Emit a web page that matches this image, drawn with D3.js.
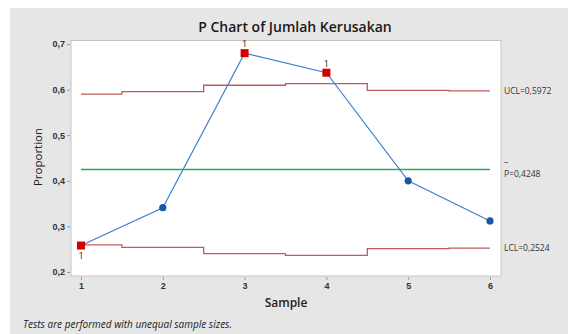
<!DOCTYPE html>
<html><head><meta charset="utf-8">
<script src="https://cdn.jsdelivr.net/npm/d3@7"></script>
<style>body{margin:0;background:#fff;}svg{display:block;font-family:"Open Sans","Noto Sans",sans-serif;}</style>
</head><body>
<svg id="c" width="568" height="334"></svg>
<script>
const samples = [1, 2, 3, 4, 5, 6];
const proportions = [0.258, 0.341, 0.680, 0.637, 0.400, 0.312];
const outOfControl = [true, false, true, true, false, false];
const ucl = [0.590, 0.5955, 0.6095, 0.613, 0.5985, 0.5972];
const centerP = 0.4248;
const lcl = ucl.map(u => 2 * centerP - u);
const yTicks = [0.2, 0.3, 0.4, 0.5, 0.6, 0.7];
const xTicks = [1, 2, 3, 4, 5, 6];
const fmt = v => d3.format(".1f")(v).replace(".", ",");

const svg = d3.select("#c");
svg.append("rect").attr("x", 10).attr("y", 8).attr("width", 558).attr("height", 326).attr("fill", "#e6e6e6");

const plot = {l: 71, t: 40.5, r: 501, b: 276};
const x = d3.scaleLinear().domain([1, 6]).range([81, 490]);
const y = d3.scaleLinear().domain([0.2, 0.7]).range([272, 44]);

svg.append("rect").attr("x", plot.l).attr("y", plot.t).attr("width", plot.r - plot.l).attr("height", plot.b - plot.t)
  .attr("fill", "#fff").attr("stroke", "#c4c4c4").attr("stroke-width", 1);

// axes
const ya = svg.append("g").attr("transform", `translate(${plot.l - 1},0)`)
  .call(d3.axisLeft(y).tickValues(yTicks).tickFormat(fmt).tickSize(3).tickPadding(2));
const xa = svg.append("g").attr("transform", `translate(0,${plot.b + 1})`)
  .call(d3.axisBottom(x).tickValues(xTicks).tickFormat(d3.format("d")).tickSize(3).tickPadding(3));
[ya, xa].forEach(a => {
  a.select(".domain").remove();
  a.selectAll(".tick line").attr("stroke", "#9a9a9a");
  a.selectAll(".tick text").attr("fill", "#333").style("font-size", "9px").style("font-weight", "600");
});

// step limits
function stepPath(vals) {
  const pts = [];
  vals.forEach((v, i) => {
    const s = samples[i];
    const x0 = Math.max(1, s - 0.5), x1 = Math.min(6, s + 0.5);
    pts.push([x(x0), y(v)], [x(x1), y(v)]);
  });
  return d3.line()(pts);
}
svg.append("path").attr("d", stepPath(ucl)).attr("fill", "none").attr("stroke", "#c25a5a").attr("stroke-width", 1.3);
svg.append("path").attr("d", stepPath(lcl)).attr("fill", "none").attr("stroke", "#c25a5a").attr("stroke-width", 1.3);
svg.append("path").attr("d", d3.line()([[x(1), y(centerP)], [x(6), y(centerP)]]))
  .attr("fill", "none").attr("stroke", "#2fa84a").attr("stroke-width", 1.3);

// data line
const line = d3.line().x((d, i) => x(samples[i])).y(d => y(d));
svg.append("path").attr("d", line(proportions)).attr("fill", "none").attr("stroke", "#3f80cc").attr("stroke-width", 1.2);

proportions.forEach((p, i) => {
  const cx = x(samples[i]), cy = y(p);
  if (outOfControl[i]) {
    svg.append("rect").attr("x", cx - 4).attr("y", cy - 4).attr("width", 8).attr("height", 8).attr("fill", "#d40000");
    const below = p < centerP;
    svg.append("text").attr("x", cx).attr("y", below ? cy + 13 : cy - 6).attr("text-anchor", "middle")
      .style("font-size", "9px").attr("fill", "#222").text("1");
  } else {
    svg.append("circle").attr("cx", cx).attr("cy", cy).attr("r", 3.6).attr("fill", "#1459a8");
  }
});

// right labels
const lab = (yy, t) => svg.append("text").attr("x", 504).attr("y", yy).attr("dy", "0.35em")
  .style("font-size", "8.5px").attr("fill", "#333").text(t);
lab(y(ucl[5]), "UCL=" + d3.format(".4f")(ucl[5]).replace(".", ","));
lab(y(lcl[5]), "LCL=" + d3.format(".4f")(lcl[5]).replace(".", ","));
lab(y(centerP) + 4.5, "P=" + d3.format(".4f")(centerP).replace(".", ","));
svg.append("text").attr("x", 504).attr("y", y(centerP) - 4).style("font-size", "8.5px").attr("fill", "#333").text("–");

// titles
svg.append("text").attr("x", 295).attr("y", 32).attr("text-anchor", "middle")
  .style("font-size", "14px").style("font-weight", "600").attr("fill", "#1a1a1a").text("P Chart of Jumlah Kerusakan");
svg.append("text").attr("x", 286).attr("y", 307).attr("text-anchor", "middle")
  .style("font-size", "12px").style("font-weight", "600").attr("fill", "#222").text("Sample");
svg.append("text").attr("transform", "translate(42,157) rotate(-90)").attr("text-anchor", "middle")
  .style("font-size", "11.5px").style("font-weight", "500").attr("fill", "#222").text("Proportion");
svg.append("text").attr("x", 23).attr("y", 328)
  .style("font-size", "10px").style("font-style", "italic").attr("fill", "#222").text("Tests are performed with unequal sample sizes.");
</script>
</body></html>
